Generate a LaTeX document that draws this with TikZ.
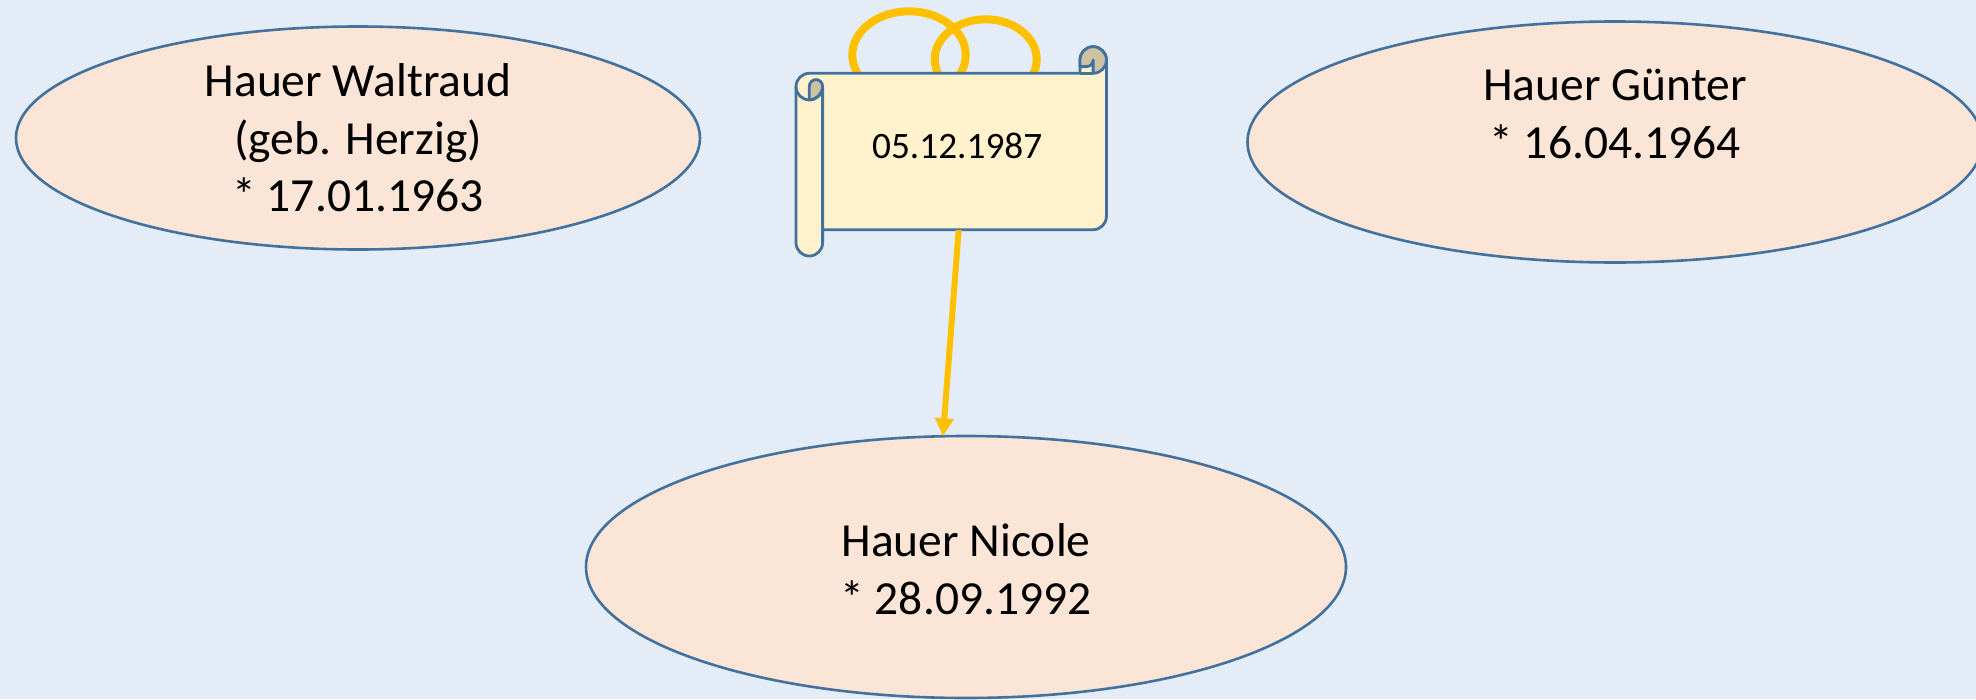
\documentclass[tikz,border=0pt]{standalone}
\usepackage{fontspec}
\setmainfont{Carlito}
\usetikzlibrary{shapes.geometric,arrows.meta}
\definecolor{bgc}{HTML}{E4EDF7}
\definecolor{person}{HTML}{FBE5D6}
\definecolor{edge}{HTML}{41719C}
\definecolor{paper}{HTML}{FFF2CC}
\definecolor{paperdark}{HTML}{CCC2A3}
\definecolor{gold}{HTML}{FFC000}
\tikzset{
  personshape/.style={ellipse,draw=edge,fill=person,line width=2.6pt,inner sep=0pt,outer sep=0pt},
  persontext/.style={align=center,font=\fontsize{47.5pt}{57.5pt}\selectfont,text=black,inner sep=0pt},
  ring/.style={draw=gold,line width=8pt},
  scrollline/.style={draw=edge,line width=2.8pt,line join=round},
  link/.style={draw=gold,line width=6pt,-{Triangle[length=18pt,width=18pt]}}
}
\begin{document}
\begin{tikzpicture}[x=1pt,y=-1pt]
\useasboundingbox (0,0) rectangle (1976,699);
\clip (0,0) rectangle (1976,699);
\fill[bgc] (0,0) rectangle (1976,699);
% ellipses
\node[personshape,minimum width=684pt,minimum height=223pt] (waltraud) at (358,138) {};
\node[personshape,minimum width=735pt,minimum height=241pt] (guenter) at (1615,142) {};
\node[personshape,minimum width=760pt,minimum height=262pt] (nicole) at (966,567) {};
\node[persontext] (twaltraud) at (358,138) {Hauer Waltraud\\(geb. Herzig)\\* 17.01.1963};
\node[persontext] (tguenter) at (1615,114) {Hauer Günter\\* 16.04.1964};
\node[persontext] (tnicole) at (966,569) {Hauer Nicole\\* 28.09.1992};
% rings
\draw[ring] (909,55) ellipse [x radius=56.7pt,y radius=43.7pt];
\draw[ring] (985.7,59.3) ellipse [x radius=51pt,y radius=40pt];
% scroll
\path[scrollline,fill=paper]
  (796,86.6) .. controls (796,79.25) and (801.95,73.3) .. (809.3,73.3)
  -- (1080,73.3) -- (1080,60)
  .. controls (1080,52.65) and (1085.75,46.7) .. (1093.1,46.7)
  .. controls (1100.45,46.7) and (1106.4,52.65) .. (1106.4,60)
  -- (1106.4,216.4)
  .. controls (1106.4,223.75) and (1100.45,229.7) .. (1093.1,229.7)
  -- (822.6,229.7) -- (822.6,242.7)
  .. controls (822.6,250.05) and (816.65,256) .. (809.3,256)
  .. controls (801.95,256) and (796,250.05) .. (796,242.7) -- cycle;
\path[scrollline,fill=paperdark]
  (809.3,99.9) -- (809.3,86.3)
  .. controls (809.3,82.6) and (812.3,79.6) .. (816,79.6)
  .. controls (819.7,79.6) and (822.6,82.6) .. (822.6,86.6)
  .. controls (822.6,93.95) and (816.65,99.9) .. (809.3,99.9) -- cycle;
\path[scrollline]
  (796,86.6) .. controls (796,93.95) and (801.95,99.9) .. (809.3,99.9)
  .. controls (816.65,99.9) and (822.6,93.95) .. (822.6,86.6) -- (822.6,229.7);
\path[scrollline,fill=paperdark]
  (1080,66.6) -- (1080,60)
  .. controls (1080,52.65) and (1085.75,46.7) .. (1093.1,46.7)
  .. controls (1100.45,46.7) and (1106.4,52.65) .. (1106.4,60)
  .. controls (1106.4,67.35) and (1100.45,73.3) .. (1093.1,73.3)
  -- (1093.1,60)
  .. controls (1093.1,63.6) and (1090.2,66.6) .. (1086.5,66.6) -- cycle;
\path[scrollline] (1080,73.3) -- (1093.1,73.3);
\node[minimum width=266pt,minimum height=168pt,inner sep=0pt,outer sep=0pt,font=\fontsize{37.3pt}{45pt}\selectfont] (scroll) at (957.2,146) {05.12.1987};
% connector
\draw[link] (scroll.271.6) -- (nicole.100);
\end{tikzpicture}
\end{document}
